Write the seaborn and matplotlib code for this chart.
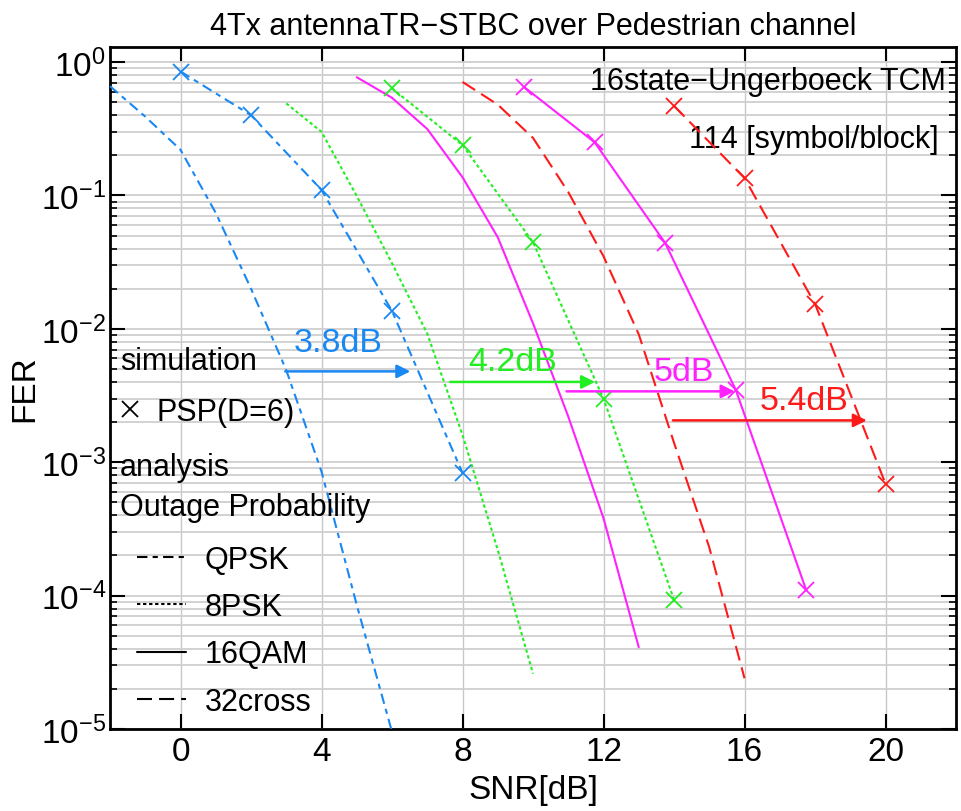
import matplotlib
matplotlib.use("Agg")
import matplotlib.pyplot as plt
import seaborn as sns
from matplotlib.lines import Line2D
from matplotlib.ticker import LogLocator, NullLocator, FixedLocator

# ---- data ----
# simulation (PSP, D=6)
sim_qpsk_snr = [0, 2, 4, 6, 8]
sim_qpsk_fer = [0.85, 0.40, 0.11, 0.0136, 8.3e-4]
sim_8psk_snr = [6, 8, 10, 12, 14]
sim_8psk_fer = [0.635, 0.239, 0.0446, 0.0030, 9.3e-5]
sim_16qam_snr = [9.75, 11.75, 13.75, 15.75, 17.75]
sim_16qam_fer = [0.65, 0.25, 0.044, 0.0035, 1.1e-4]
sim_32cross_snr = [14, 16, 18, 20]
sim_32cross_fer = [0.47, 0.135, 0.0154, 6.9e-4]

# analysis (outage probability)
out_qpsk_snr = [-2, -1, 0, 1, 2, 3, 4, 5, 6]
out_qpsk_fer = [0.66, 0.39, 0.22, 0.074, 0.020, 0.0049, 8.5e-4, 8.5e-5, 9.5e-6]
out_8psk_snr = [3, 4, 5, 6, 7, 8, 9, 10]
out_8psk_fer = [0.49, 0.30, 0.099, 0.031, 0.0092, 0.0016, 2.2e-4, 2.6e-5]
out_16qam_snr = [5, 6, 7, 8, 9, 10, 11, 12, 13]
out_16qam_fer = [0.77, 0.54, 0.315, 0.137, 0.0486, 0.011, 0.0022, 3.8e-4, 4.1e-5]
out_32cross_snr = [8, 9, 10, 11, 12, 13, 14, 15, 16]
out_32cross_fer = [0.71, 0.48, 0.27, 0.106, 0.035, 0.0091, 0.0014, 2.3e-4, 2.4e-5]

# gain arrows
gain_labels = ["3.8dB", "4.2dB", "5dB", "5.4dB"]
gain_start = [2.97, 7.65, 10.95, 13.97]
gain_end = [6.52, 11.76, 15.72, 19.47]
gain_fer = [0.0048, 0.0040, 0.0034, 0.00206]
gain_text_snr = [4.47, 9.43, 14.28, 17.7]
gain_text_fer = [0.0079, 0.0057, 0.0048, 0.0029]

mod_names = ["QPSK", "8PSK", "16QAM", "32cross"]
colors = ["#1a88f2", "#22ee22", "#ff22ff", "#ff1a1a"]
styles = [(0, (5, 2.5, 2.5, 2.5)), (0, (1.6, 1.3)), "-", (0, (7.2, 3.4))]

sns.set_theme(style="ticks")
plt.rcParams["font.family"] = ["Liberation Sans", "DejaVu Sans"]
plt.rcParams["mathtext.fontset"] = "custom"
plt.rcParams["mathtext.rm"] = "Liberation Sans"
plt.rcParams["mathtext.it"] = "Liberation Sans:italic"
plt.rcParams["mathtext.default"] = "regular"
for key in ["text.color", "axes.labelcolor", "xtick.color", "ytick.color", "axes.edgecolor"]:
    plt.rcParams[key] = "black"

fig = plt.figure(figsize=(9.61, 8.12), dpi=100)
ax = fig.add_axes([0.1145, 0.101, 0.8803, 0.840])

sims = [(sim_qpsk_snr, sim_qpsk_fer), (sim_8psk_snr, sim_8psk_fer),
        (sim_16qam_snr, sim_16qam_fer), (sim_32cross_snr, sim_32cross_fer)]
outs = [(out_qpsk_snr, out_qpsk_fer), (out_8psk_snr, out_8psk_fer),
        (out_16qam_snr, out_16qam_fer), (out_32cross_snr, out_32cross_fer)]

for (sx, sy), (ox, oy), c, ls in zip(sims, outs, colors, styles):
    sns.lineplot(x=ox, y=oy, ax=ax, color=c, linestyle=ls, lw=1.5, zorder=3)
    sns.lineplot(x=sx, y=sy, ax=ax, color=c, linestyle=ls, lw=1.5,
                 marker="x", markersize=12, markeredgewidth=1.3,
                 markeredgecolor=c, zorder=4)

ax.set_yscale("log")
ax.set_xlim(-2, 22)
ax.set_ylim(1e-5, 1.3)

for lab, x0, x1, y, tx, ty, c in zip(gain_labels, gain_start, gain_end, gain_fer,
                                     gain_text_snr, gain_text_fer, colors):
    ax.annotate("", xy=(x1, y), xytext=(x0, y),
                arrowprops=dict(arrowstyle="-|>", color=c, lw=1.8,
                                mutation_scale=20, shrinkA=0, shrinkB=0), zorder=5)
    ax.text(tx, ty, lab, color=c, fontsize=24.5, ha="center", va="center", zorder=5)

# ticks and grid
ax.xaxis.set_major_locator(FixedLocator([0, 4, 8, 12, 16, 20]))
ax.xaxis.set_minor_locator(NullLocator())
ax.yaxis.set_major_locator(LogLocator(base=10, numticks=10))
ax.yaxis.set_minor_locator(LogLocator(base=10, subs=range(2, 10), numticks=20))
ax.tick_params(which="both", direction="in", top=True, right=True, colors="black")
ax.tick_params(which="major", length=11, width=1.5, labelsize=24)
ax.tick_params(which="minor", length=5, width=1.2)
ax.tick_params(axis="x", pad=5)
ax.tick_params(axis="y", pad=3)
ax.grid(True, which="major", axis="x", color="#c8c8c8", lw=1.0)
ax.grid(True, which="both", axis="y", color="#cfcfcf", lw=1.3)
for sp in ax.spines.values():
    sp.set_linewidth(2)
    sp.set_color("black")

ax.set_xlabel("SNR[dB]", fontsize=24, labelpad=5)
ax.set_ylabel("FER", fontsize=24, labelpad=0)
ax.set_title("4Tx antennaTR\u2212STBC over Pedestrian channel", fontsize=22, pad=9)

# annotations at top right
ax.text(0.988, 0.950, "16state\u2212Ungerboeck TCM", transform=ax.transAxes,
        ha="right", va="center", fontsize=22)
ax.text(0.980, 0.865, "114 [symbol/block]", transform=ax.transAxes,
        ha="right", va="center", fontsize=22)

# legend block
ax.text(0.012, 0.540, "simulation", transform=ax.transAxes, ha="left", va="center", fontsize=22)
ax.text(0.012, 0.384, "analysis", transform=ax.transAxes, ha="left", va="center", fontsize=22)
ax.text(0.012, 0.326, "Outage Probability", transform=ax.transAxes, ha="left", va="center", fontsize=22)

psp = [Line2D([], [], color="black", marker="x", linestyle="none", markersize=12,
              markeredgewidth=1.3)]
leg1 = ax.legend(psp, ["PSP(D=6)"], loc="center left", bbox_to_anchor=(-0.012, 0.465),
                 frameon=False, fontsize=22, handlelength=1.2, handletextpad=0.25,
                 borderaxespad=0)
ax.add_artist(leg1)

mod_handles = [Line2D([], [], color="black", linestyle=ls, lw=1.5) for ls in styles]
ax.legend(mod_handles, mod_names, loc="lower left", bbox_to_anchor=(0.018, 0.0),
          frameon=False, fontsize=22, handlelength=1.6, handletextpad=0.6,
          labelspacing=0.57, borderaxespad=0)

fig.savefig("out.png", dpi=100)
